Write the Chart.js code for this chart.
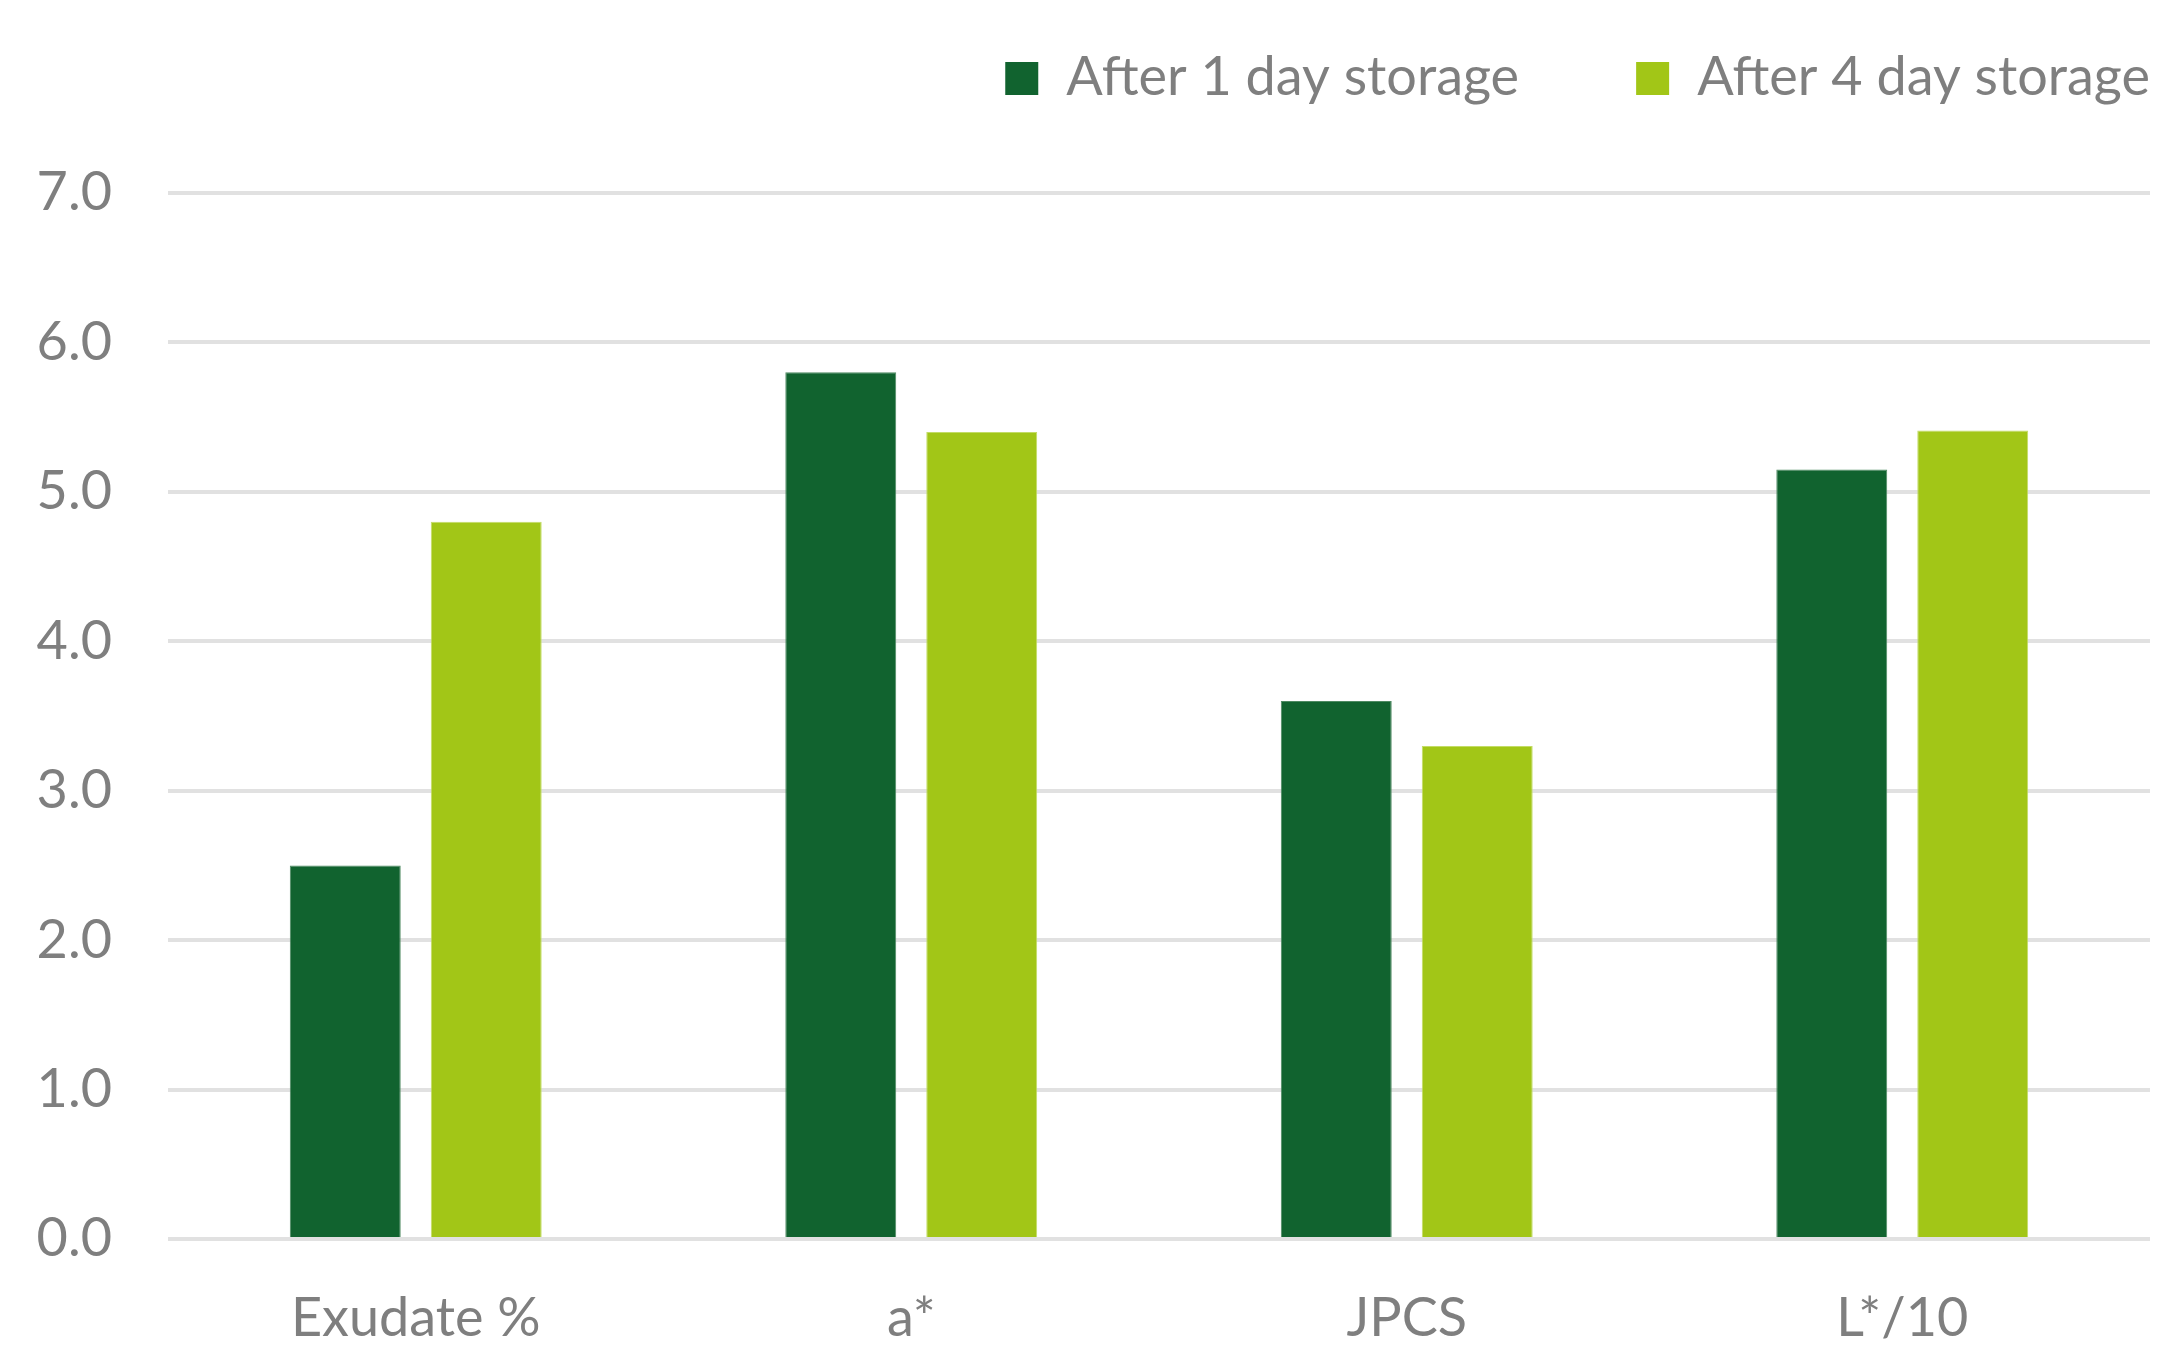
<!DOCTYPE html>
<html>
<head>
<meta charset="utf-8">
<script src="https://cdn.jsdelivr.net/npm/chart.js@4/dist/chart.umd.min.js"></script>
<style>
  html, body { margin: 0; padding: 0; background: #ffffff; }
  #wrap { width: 2167px; height: 1346px; position: relative; }
</style>
</head>
<body>
<div id="wrap"><canvas id="chart" width="2167" height="1346"></canvas></div>
<script>
// Measured quality indicators, grouped by storage time
const categories = ['Exudate %', 'a*', 'JPCS', 'L*/10'];
const seriesNames = ['After 1 day storage', 'After 4 day storage'];
const day1Values = [2.5, 5.8, 3.6, 5.15];
const day4Values = [4.8, 5.4, 3.3, 5.41];
const yTicks = [0, 1, 2, 3, 4, 5, 6, 7];

const FONT = 'Lato, "Open Sans", sans-serif';
const FONT_SIZE = 54;
const TEXT_COLOR = '#7f7f7f';
const DARK = '#11632f';
const LIGHT = '#a2c617';

// Legend drawn in the top-right corner, aligned with the plot's right edge
const topLegend = {
  id: 'topLegend',
  afterDraw(chart) {
    const ctx = chart.ctx;
    const box = 33, gap = 28, spacing = 117;
    const baseline = 95;
    ctx.save();
    ctx.font = FONT_SIZE + 'px ' + FONT;
    ctx.textBaseline = 'alphabetic';
    ctx.textAlign = 'left';
    const items = chart.data.datasets.map(ds => ({
      label: ds.label, color: ds.backgroundColor,
      w: ctx.measureText(ds.label).width
    }));
    let total = 0;
    items.forEach((it, i) => { total += box + gap + it.w + (i ? spacing : 0); });
    let x = chart.chartArea.right - total;
    items.forEach(it => {
      ctx.fillStyle = it.color;
      ctx.fillRect(x, baseline - 33, box, box);
      ctx.fillStyle = TEXT_COLOR;
      ctx.fillText(it.label, x + box + gap, baseline);
      x += box + gap + it.w + spacing;
    });
    ctx.restore();
  }
};

new Chart(document.getElementById('chart'), {
  type: 'bar',
  data: {
    labels: categories,
    datasets: [
      { label: seriesNames[0], data: day1Values, backgroundColor: DARK,
        borderColor: '#4e8a62', borderWidth: 1 },
      { label: seriesNames[1], data: day4Values, backgroundColor: LIGHT,
        borderColor: '#c3dc66', borderWidth: 1 }
    ]
  },
  options: {
    responsive: false,
    animation: false,
    devicePixelRatio: 1,
    layout: { padding: { top: 193, right: 17, bottom: 0, left: 0 } },
    datasets: {
      bar: { categoryPercentage: 0.569, barPercentage: 0.787 }
    },
    plugins: {
      legend: { display: false },
      tooltip: { enabled: false }
    },
    scales: {
      x: {
        grid: { display: false },
        border: { display: false },
        ticks: {
          color: TEXT_COLOR,
          font: { family: FONT, size: FONT_SIZE },
          padding: 39
        },
        afterFit(scale) { scale.height = 107; }
      },
      y: {
        min: 0,
        max: 7,
        afterBuildTicks(scale) { scale.ticks = yTicks.map(v => ({ value: v })); },
        grid: { color: '#e1e1e1', lineWidth: 4, drawTicks: false },
        border: { display: false },
        ticks: {
          color: TEXT_COLOR,
          font: { family: FONT, size: FONT_SIZE },
          padding: 56,
          callback: v => Number(v).toFixed(1)
        },
        afterFit(scale) { scale.width = 168; }
      }
    }
  },
  plugins: [topLegend]
});
</script>
</body>
</html>
